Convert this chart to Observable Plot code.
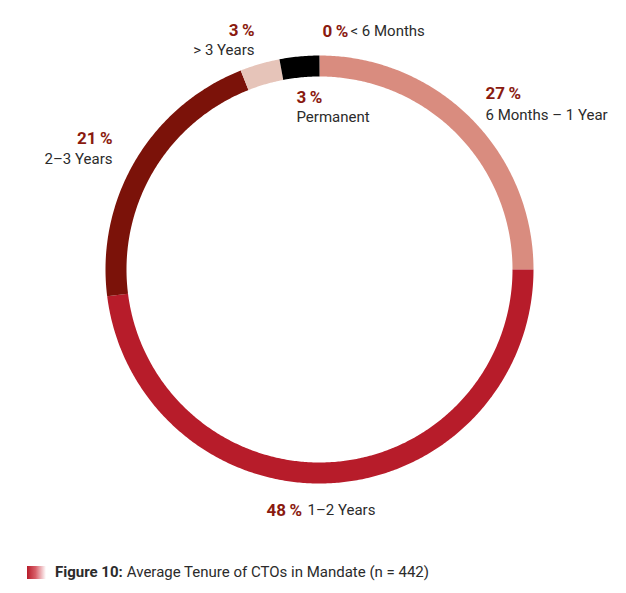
<!DOCTYPE html>
<html>
<head>
<meta charset="utf-8">
<script src="https://cdn.jsdelivr.net/npm/d3@7"></script>
<script src="https://cdn.jsdelivr.net/npm/@observablehq/plot@0.6"></script>
<style>
  html, body { margin: 0; padding: 0; background: #fff; }
  body { width: 626px; height: 593px; overflow: hidden; font-family: Roboto, "Open Sans", sans-serif; }
  #chart svg { display: block; }
  #caption { position: absolute; left: 27px; top: 563px; display: flex; align-items: center; font-size: 15px; color: #2b2b2b; }
  #caption .sw { width: 19px; height: 13px; background: linear-gradient(to right, #b71c2a 0%, #d8606a 45%, #ffffff 100%); margin-right: 9px; }
  #caption b { font-weight: 700; margin-right: 4px; }
</style>
</head>
<body>
<div id="chart"></div>
<div id="caption"><span class="sw"></span><b>Figure 10:</b><span>Average Tenure of CTOs in Mandate (n = 442)</span></div>
<script>
// Data
const categories = ["< 6 Months", "6 Months – 1 Year", "1–2 Years", "2–3 Years", "> 3 Years", "Permanent"];
const percentLabels = [0, 27, 48, 21, 3, 3];
// arc shares as drawn in the picture (clockwise from 12 o'clock)
const arcShares = [0, 25, 48, 21, 3, 3];
const colors = ["#c9706a", "#d98c7f", "#b71c2a", "#7b1209", "#e6c4b9", "#000000"];

// Layout (pixel offsets from ring centre, y up)
const ringRadius = 203.5;
const ringWidth = 21;
const pctPos = [
  {x: 3, y: 238, anchor: "start"},
  {x: 166, y: 176, anchor: "start"},
  {x: -53, y: -241, anchor: "start"},
  {x: -207, y: 131, anchor: "end"},
  {x: -65, y: 239, anchor: "end"},
  {x: -23, y: 172, anchor: "start"}
];
const catPos = [
  {x: 31, y: 238, anchor: "start"},
  {x: 166, y: 154, anchor: "start"},
  {x: -12, y: -241, anchor: "start"},
  {x: -207, y: 110, anchor: "end"},
  {x: -65, y: 219, anchor: "end"},
  {x: -23, y: 152, anchor: "start"}
];

// Build arc paths from shares
const total = d3.sum(arcShares);
const ring = [];
let cum = 0;
arcShares.forEach((v, i) => {
  const a0 = cum / total * 2 * Math.PI;
  const a1 = (cum + v) / total * 2 * Math.PI;
  cum += v;
  if (v === 0) return;
  const n = Math.max(2, Math.ceil((a1 - a0) / (Math.PI / 360)));
  for (let k = 0; k <= n; k++) {
    const a = a0 + (a1 - a0) * k / n;
    ring.push({cat: categories[i], x: ringRadius * Math.sin(a), y: ringRadius * Math.cos(a)});
  }
});

const pctRows = categories.map((c, i) => ({cat: c, text: percentLabels[i] + "\u2009%", ...pctPos[i]}));
const catRows = categories.map((c, i) => ({cat: c, text: c, ...catPos[i]}));

const chart = Plot.plot({
  width: 626,
  height: 550,
  x: {domain: [-214, 214], range: [105, 533], axis: null},
  y: {domain: [-214, 214], range: [483, 55], axis: null},
  color: {domain: categories, range: colors},
  style: {fontFamily: "Roboto, 'Open Sans', sans-serif", background: "#fff"},
  marks: [
    Plot.line(ring, {x: "x", y: "y", z: "cat", stroke: "cat", strokeWidth: ringWidth, strokeLinecap: "butt", strokeLinejoin: "round", curve: "linear"}),
    Plot.text(pctRows.filter(d => d.anchor === "start"), {x: "x", y: "y", text: "text", textAnchor: "start", fill: "#8a1a0f", fontWeight: "bold", fontSize: 17}),
    Plot.text(pctRows.filter(d => d.anchor === "end"), {x: "x", y: "y", text: "text", textAnchor: "end", fill: "#8a1a0f", fontWeight: "bold", fontSize: 17}),
    Plot.text(catRows.filter(d => d.anchor === "start"), {x: "x", y: "y", text: "text", textAnchor: "start", fill: "#2b2b2b", fontSize: 15}),
    Plot.text(catRows.filter(d => d.anchor === "end"), {x: "x", y: "y", text: "text", textAnchor: "end", fill: "#2b2b2b", fontSize: 15})
  ]
});
document.getElementById("chart").appendChild(chart);
</script>
</body>
</html>
